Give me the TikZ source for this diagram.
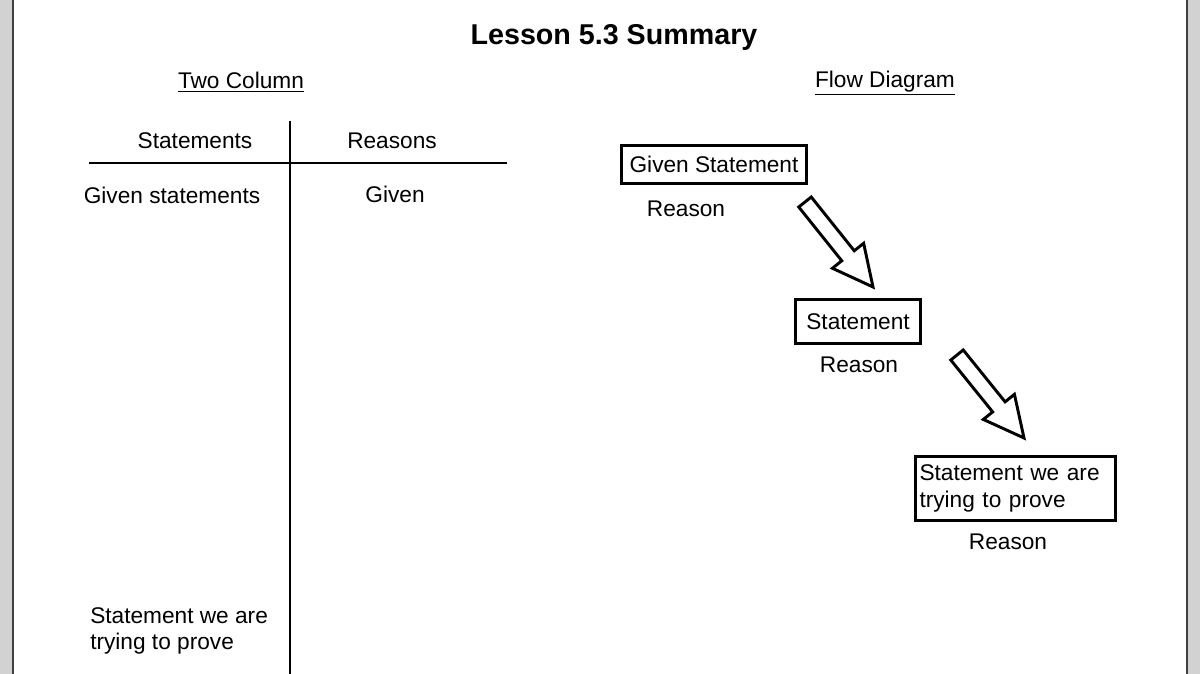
\documentclass[tikz,border=0pt]{standalone}
\usepackage{fontspec}
\setmainfont{Liberation Sans}
\usetikzlibrary{calc}
\tikzset{
  txt/.style={font=\fontsize{17}{20}\selectfont, inner sep=0pt},
  bx/.style={draw, line width=2.2pt, minimum height=29pt, inner sep=0pt},
  barrow/.style={draw, line width=2.2pt, fill=white, line join=miter}
}
\newcommand{\blockarrow}[2]{%
  \coordinate (H) at ($(#2)!30pt!(#1)$);
  \draw[barrow] ($(#1)!6pt!90:(#2)$) -- ($(H)!6pt!90:(#2)$) -- ($(H)!15pt!90:(#2)$) -- (#2)
     -- ($(H)!15pt!-90:(#2)$) -- ($(H)!6pt!-90:(#2)$) -- ($(#1)!6pt!-90:(#2)$) -- cycle;}
\begin{document}
\begin{tikzpicture}[x=0.75pt,y=-0.75pt]
\useasboundingbox (0,0) rectangle (1200,674);
\fill[gray!35] (0,0) rectangle (12,674);
\fill[gray!35] (1188,0) rectangle (1200,674);
\draw[line width=2pt, black!75] (13,0) -- (13,674);
\draw[line width=2pt, black!75] (1187,0) -- (1187,674);
\node[font=\fontsize{21.5}{24}\selectfont\bfseries] (title) at (614,37) {Lesson 5.3 Summary};
\node[txt] (tc) at (241,82) {\underline{Two Column}};
\node[txt] (fd) at (885,83) {\underline{Flow Diagram}};
% table
\coordinate (vt) at (290,121); \coordinate (vb) at (290,674);
\coordinate (hl) at (89,163); \coordinate (hr) at (507,163);
\draw[line width=2.2pt] (vt) -- (vb);
\draw[line width=2.2pt] (hl) -- (hr);
\node[txt] (st) at (195,141) {Statements};
\node[txt] (rs) at (392,141) {Reasons};
\node[txt] (gs) at (172,195) {Given statements};
\node[txt] (gv) at (395,194) {Given};
\node[txt, align=left, anchor=north west] (sp) at (90,607) {Statement we are\\trying to prove};
% flow
\node[txt, bx, minimum width=139pt] (b1) at (714,164.5) {Given Statement};
\node[txt] (r1) at (686,209) {Reason};
\node[txt, bx, minimum width=94pt, minimum height=33pt] (b2) at (858,321.5) {Statement};
\node[txt] (r2) at (859,365) {Reason};
\node[txt, bx, align=left, minimum width=150pt, minimum height=48pt, text width=144pt] (b3) at (1015.5,488.5) {Statement we are\\trying to prove};
\node[txt] (r3) at (1008,542) {Reason};
\coordinate (t1) at (805,202); \coordinate (p1) at (873,287);
\coordinate (t2) at (957,355); \coordinate (p2) at (1024,438);
\blockarrow{t1}{p1}
\blockarrow{t2}{p2}
\end{tikzpicture}
\end{document}
